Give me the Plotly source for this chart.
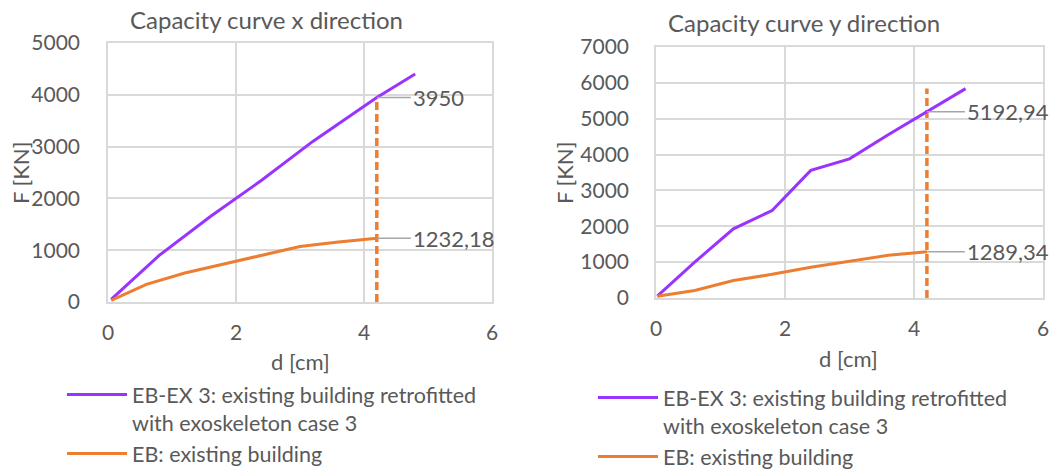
import plotly.graph_objects as go

# Capacity curves: displacement d [cm] vs base shear F [KN]
# x direction
x_d_ex = [0.05, 0.8, 1.6, 2.4, 3.2, 4.2, 4.8]
x_f_ex = [50, 900, 1650, 2350, 3100, 3950, 4400]
x_d_eb = [0.05, 0.6, 1.2, 1.8, 2.4, 3.0, 3.6, 4.2]
x_f_eb = [30, 340, 560, 730, 900, 1070, 1160, 1232.18]

# y direction
y_d_ex = [0.02, 0.6, 1.2, 1.8, 2.4, 3.0, 3.6, 4.2, 4.8]
y_f_ex = [50, 1000, 1930, 2440, 3560, 3880, 4550, 5192.94, 5840]
y_d_eb = [0.02, 0.6, 1.2, 1.8, 2.4, 3.0, 3.6, 4.2]
y_f_eb = [50, 210, 490, 660, 860, 1030, 1190, 1289.34]

# target displacement markers
target_d = 4.2
x_marker_top = 3950
y_marker_top = 5840

x_labels = [("3950", 3950), ("1232,18", 1232.18)]
y_labels = [("5192,94", 5192.94), ("1289,34", 1289.34)]

name_ex = "EB-EX 3: existing building retrofitted<br>with exoskeleton case 3"
name_eb = "EB: existing building"

PURPLE = "#9933FF"
ORANGE = "#ED7D31"
TEXT = "#595959"
GRID = "#D9D9D9"
FONT = "Lato"

W, H = 1062, 471


def px_x(a, b):
    return [a / W, b / W]


def px_y(top, bottom):
    return [(H - bottom) / H, (H - top) / H]


fig = go.Figure()

# left chart
fig.add_trace(go.Scatter(x=[target_d, target_d], y=[0, x_marker_top], mode="lines",
                         line=dict(color=ORANGE, width=3.5, dash="8px,4px"),
                         showlegend=False, xaxis="x", yaxis="y"))
fig.add_trace(go.Scatter(x=x_d_ex, y=x_f_ex, mode="lines", name=name_ex,
                         line=dict(color=PURPLE, width=3), legend="legend",
                         xaxis="x", yaxis="y"))
fig.add_trace(go.Scatter(x=x_d_eb, y=x_f_eb, mode="lines", name=name_eb,
                         line=dict(color=ORANGE, width=3), legend="legend",
                         xaxis="x", yaxis="y"))

# right chart
fig.add_trace(go.Scatter(x=[target_d, target_d], y=[0, y_marker_top], mode="lines",
                         line=dict(color=ORANGE, width=3.5, dash="8px,4px"),
                         showlegend=False, xaxis="x2", yaxis="y2"))
fig.add_trace(go.Scatter(x=y_d_ex, y=y_f_ex, mode="lines", name=name_ex,
                         line=dict(color=PURPLE, width=3), legend="legend2",
                         xaxis="x2", yaxis="y2"))
fig.add_trace(go.Scatter(x=y_d_eb, y=y_f_eb, mode="lines", name=name_eb,
                         line=dict(color=ORANGE, width=3), legend="legend2",
                         xaxis="x2", yaxis="y2"))

axis_common = dict(showgrid=True, gridcolor=GRID, gridwidth=1.5,
                   showline=True, linecolor=GRID, linewidth=1.5, mirror=True,
                   zeroline=False, ticks="", tickfont=dict(size=21, color=TEXT),
                   fixedrange=True)

legend_common = dict(xanchor="left", yanchor="top", font=dict(size=21.5, color=TEXT),
                     valign="top", tracegroupgap=0, itemwidth=60,
                     bgcolor="rgba(0,0,0,0)")

fig.update_layout(
    width=W, height=H,
    margin=dict(l=0, r=0, t=0, b=0, autoexpand=False),
    paper_bgcolor="white", plot_bgcolor="white",
    font=dict(family=FONT, color=TEXT),
    xaxis=dict(domain=px_x(108, 492), range=[0, 6], dtick=2, anchor="y",
               ticklabelstandoff=11, **axis_common),
    yaxis=dict(domain=px_y(43, 302), range=[0, 5000], dtick=1000, anchor="x",
               ticklabelstandoff=22, **axis_common),
    xaxis2=dict(domain=px_x(656, 1043), range=[0, 6], dtick=2, anchor="y2",
                ticklabelstandoff=11, **axis_common),
    yaxis2=dict(domain=px_y(47, 298), range=[0, 7000], dtick=1000, anchor="x2",
                ticklabelstandoff=21, **axis_common),
    legend=dict(x=62 / W, y=1 - 374 / H, **legend_common),
    legend2=dict(x=593 / W, y=1 - 377 / H, **legend_common),
    showlegend=True,
)


def paper_text(text, cx, cy, size, angle=0):
    return dict(text=text, x=cx / W, y=1 - cy / H, xref="paper", yref="paper",
                showarrow=False, font=dict(size=size, color=TEXT), textangle=angle,
                xanchor="center", yanchor="middle")


annotations = [
    paper_text("Capacity curve x direction", 266, 20, 24),
    paper_text("Capacity curve y direction", 804, 23, 24),
    paper_text("F [KN]", 21, 173, 22, -90),
    paper_text("F [KN]", 565, 173, 22, -90),
    paper_text("d [cm]", 300, 361, 22),
    paper_text("d [cm]", 848, 358, 22),
]
for text, val in x_labels:
    annotations.append(dict(text=text, x=target_d, y=val, xref="x", yref="y",
                            showarrow=True, arrowhead=0, arrowwidth=1.5, arrowcolor="#A6A6A6",
                            ax=34, ay=0, xanchor="left", yanchor="middle", standoff=0,
                            font=dict(size=22, color=TEXT)))
for text, val in y_labels:
    annotations.append(dict(text=text, x=target_d, y=val, xref="x2", yref="y2",
                            showarrow=True, arrowhead=0, arrowwidth=1.5, arrowcolor="#A6A6A6",
                            ax=38, ay=0, xanchor="left", yanchor="middle", standoff=0,
                            font=dict(size=22, color=TEXT)))
fig.update_layout(annotations=annotations)

fig.write_html("out.html")
